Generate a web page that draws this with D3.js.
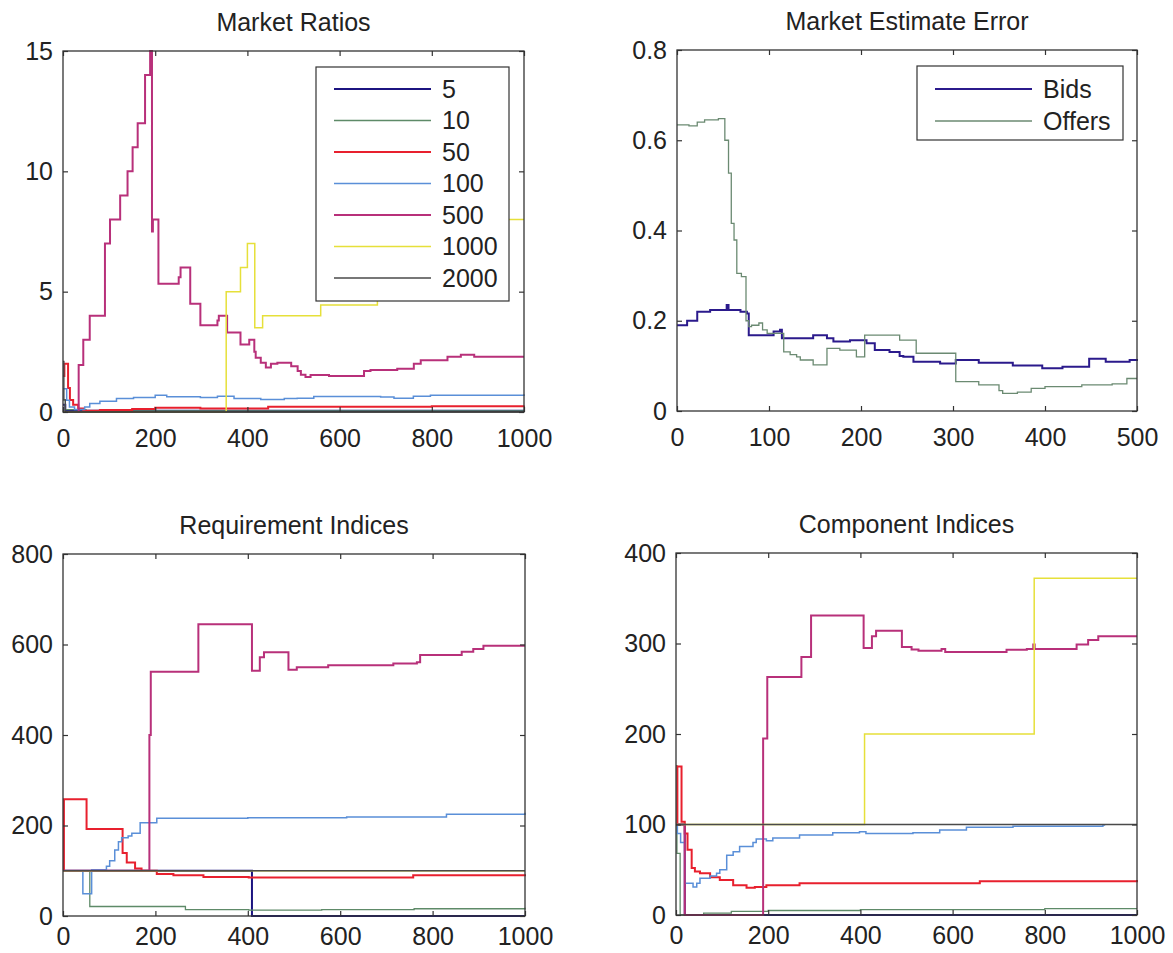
<!DOCTYPE html>
<html>
<head>
<meta charset="utf-8">
<script src="https://cdn.jsdelivr.net/npm/d3@7"></script>
<style>
  body { margin: 0; background: #fff; }
  text { font-family: "Liberation Sans", Arial, sans-serif; fill: #222; }
</style>
</head>
<body>
<div id="visualization"></div>
<script>
// Series names / colours (legend order, also draw order)
var seriesNames  = ["5", "10", "50", "100", "500", "1000", "2000"];
var seriesColors = ["#1c1480", "#5e8a68", "#e8202e", "#5a8fd8", "#b8307a", "#e6e03a", "#4a4a4a"];
var seriesWidths = [2, 1.3, 2, 1.5, 2, 1.5, 1.3];

// Market Ratios  [x, y] step starts
var ratios5    = [[0, 0.3], [5, 0.05], [1000, 0.02]];
var ratios10   = [[0, 0.5], [5, 0.1], [50, 0.05], [1000, 0.05]];
var ratios50   = [[0, 1.5], [3, 2], [11, 1.0], [15, 0.5], [22, 0.3], [33, 0.15], [44, 0.05], [80, 0.08], [150, 0.12],
                  [200, 0.18], [298, 0.15], [429, 0.15], [445, 0.22], [600, 0.22], [800, 0.24], [1000, 0.27]];
var ratios100  = [[0, 0.97], [4, 0.97], [8, 0.49], [14, 0.21], [25, 0.1], [47, 0.21], [58, 0.35], [80, 0.45], [116, 0.56],
                  [153, 0.6], [200, 0.7], [225, 0.63], [298, 0.6], [335, 0.65], [371, 0.56], [429, 0.52], [480, 0.56],
                  [508, 0.57], [544, 0.64], [689, 0.62], [718, 0.57], [760, 0.65], [797, 0.7], [1000, 0.74]];
var ratios500  = [[0, 0], [34, 1.95], [44, 3], [58, 4], [91, 7], [102, 8], [124, 9], [140, 10], [151, 11], [162, 12],
                  [178, 14], [189, 15], [193, 7.5], [195, 8], [207, 5.33], [251, 5.6], [255, 6], [276, 4.5], [298, 3.6],
                  [335, 3.8], [338, 4], [356, 3.3], [385, 2.8], [404, 3], [415, 2.5], [418, 2.25], [429, 2.05],
                  [440, 1.85], [451, 2], [465, 2.05], [495, 1.9], [509, 1.7], [516, 1.55], [526, 1.45], [537, 1.54],
                  [577, 1.5], [653, 1.7], [667, 1.75], [725, 1.8], [761, 2], [776, 2.15], [834, 2.3], [863, 2.38],
                  [892, 2.3], [1000, 2.3]];
var ratios1000 = [[0, 0], [354, 5], [385, 6], [400, 7], [416, 3.5], [433, 4], [559, 4.45], [682, 8], [1000, 8]];
var ratios2000 = [[0, 2.1], [2, 0.5], [5, 0], [1000, 0]];

// Market Estimate Error
var bids   = [[0, 0.19], [6, 0.19], [11, 0.2], [22, 0.22], [36, 0.224], [54, 0.235], [56, 0.224], [69, 0.22], [76, 0.216],
              [78, 0.168], [105, 0.176], [112, 0.18], [114, 0.161], [134, 0.161], [148, 0.168], [163, 0.161], [170, 0.154],
              [188, 0.157], [206, 0.15], [215, 0.135], [231, 0.131], [242, 0.122], [246, 0.12], [257, 0.109], [286, 0.105],
              [303, 0.113], [328, 0.107], [365, 0.101], [397, 0.095], [419, 0.098], [448, 0.116], [466, 0.109],
              [492, 0.113], [500, 0.115]];
var offers = [[0, 0.634], [13, 0.632], [22, 0.64], [30, 0.645], [45, 0.648], [52, 0.6], [56, 0.527], [59, 0.416],
              [62, 0.379], [65, 0.305], [70, 0.298], [75, 0.2], [78, 0.187], [81, 0.19], [89, 0.195], [93, 0.18],
              [98, 0.172], [116, 0.131], [123, 0.125], [130, 0.12], [134, 0.113], [148, 0.102], [163, 0.139],
              [177, 0.135], [195, 0.12], [204, 0.168], [242, 0.157], [260, 0.128], [303, 0.065], [328, 0.058],
              [350, 0.045], [354, 0.039], [370, 0.042], [385, 0.05], [400, 0.054], [440, 0.058], [473, 0.06],
              [489, 0.072], [500, 0.072]];

// Requirement Indices
var req5    = [[0, 100], [409, 0], [1000, 0]];
var req10   = [[0, 100], [58, 21], [265, 14], [402, 13], [560, 14], [760, 16], [1000, 18]];
var req50   = [[0, 100], [2, 258], [51, 192], [129, 139], [138, 118], [156, 105], [170, 100], [203, 93], [239, 90],
               [304, 86], [402, 85], [514, 85], [758, 90], [1000, 92]];
var req100  = [[0, 100], [43, 49], [62, 102], [94, 110], [101, 122], [112, 146], [120, 164], [127, 173], [141, 177],
               [149, 183], [167, 206], [203, 216], [400, 217], [614, 219], [830, 225], [1000, 228]];
var req500  = [[0, 100], [187, 400], [190, 540], [293, 645], [409, 542], [426, 572], [435, 583], [488, 544], [506, 550],
               [574, 554], [715, 558], [766, 561], [773, 577], [863, 584], [888, 590], [910, 597], [1000, 597]];
var req1000 = [[0, 100], [1000, 100]];
var req2000 = [[0, 100], [1000, 100]];

// Component Indices
var comp5    = [[0, 100], [19, 0], [1000, 0]];
var comp10   = [[0, 165], [2, 68], [9, 0], [60, 2], [120, 4], [200, 5], [400, 6], [600, 6], [800, 7], [1000, 7]];
var comp50   = [[0, 100], [3, 164], [12, 103], [19, 90], [25, 72], [34, 52], [41, 48], [52, 46], [74, 41.7], [95, 38.7],
                [124, 33], [153, 30], [171, 31], [196, 33], [268, 35], [412, 35], [659, 37.4], [1000, 38.7]];
var comp100  = [[0, 100], [3, 90], [10, 80], [19, 35], [37, 31], [45, 35], [52, 40.5], [74, 43], [88, 46], [95, 50],
                [110, 66], [124, 70], [138, 75.6], [167, 80], [174, 84], [196, 82], [210, 85], [268, 88.5], [340, 91],
                [398, 92], [412, 90], [514, 91], [572, 94], [630, 97], [731, 98], [926, 99.4], [931, 99.4]];
var comp500  = [[0, 100], [19, 0], [189, 195], [198, 263], [272, 285], [293, 331], [407, 295], [425, 308], [434, 314],
                [490, 296], [511, 293.5], [526, 292], [576, 294], [584, 290.6], [717, 293], [761, 294], [775, 299],
                [778, 294], [869, 299], [894, 304], [916, 308], [1000, 308]];
var comp1000 = [[0, 100], [409, 200], [777, 372], [1000, 372]];
var comp2000 = [[0, 100], [1000, 100]];

var svg = d3.select("#visualization").append("svg")
            .attr("width", 1173)
            .attr("height", 953);

Panel = function (opts) {
    // Box in page pixels
    this.box = opts.box;
    this.w = this.box.right - this.box.left;
    this.h = this.box.bottom - this.box.top;
    this.opts = opts;

    this.base = svg.append("g")
                   .attr("transform", "translate(" + this.box.left + "," + this.box.top + ")");

    this.x = d3.scaleLinear().domain(opts.xDomain).range([0, this.w]);
    this.y = d3.scaleLinear().domain(opts.yDomain).range([this.h, 0]);

    this.createLines();
    this.createAxes();
    if (opts.legend) this.createLegend();
}

Panel.prototype.createAxes = function () {
    var o = this.opts;
    var fmt = function (d) { return String(d); };

    var gx = this.base.append("g")
        .attr("transform", "translate(0," + this.h + ")")
        .call(d3.axisBottom(this.x).tickValues(o.xTicks).tickFormat(fmt).tickSize(-5).tickPadding(o.xPad));
    var gy = this.base.append("g")
        .call(d3.axisLeft(this.y).tickValues(o.yTicks).tickFormat(fmt).tickSize(-5).tickPadding(10));
    // mirrored ticks top / right
    var gt = this.base.append("g")
        .call(d3.axisTop(this.x).tickValues(o.xTicks).tickFormat("").tickSize(-5));
    var gr = this.base.append("g")
        .attr("transform", "translate(" + this.w + ",0)")
        .call(d3.axisRight(this.y).tickValues(o.yTicks).tickFormat("").tickSize(-5));

    [gx, gy, gt, gr].forEach(function (g) {
        g.select(".domain").remove();
        g.selectAll("line").attr("stroke", "#333").attr("stroke-width", 1.2);
        g.selectAll("text").style("font-size", "25px").style("font-family", '"Liberation Sans", Arial, sans-serif')
         .attr("fill", "#222");
    });

    this.base.append("rect")
        .attr("width", this.w)
        .attr("height", this.h)
        .attr("fill", "none")
        .attr("stroke", "#333")
        .attr("stroke-width", 1.3);

    this.base.append("text")
        .attr("x", this.w / 2)
        .attr("y", -20)
        .attr("text-anchor", "middle")
        .style("font-size", "25px")
        .text(o.title);
}

Panel.prototype.createLines = function () {
    var self = this;
    var line = d3.line()
                 .x(function (d) { return self.x(d[0]); })
                 .y(function (d) { return self.y(d[1]); })
                 .curve(d3.curveStepAfter);

    this.base.selectAll("path.series")
        .data(this.opts.series)
        .enter().append("path")
        .attr("class", "series")
        .attr("d", function (s) { return line(s.data); })
        .attr("fill", "none")
        .attr("stroke", function (s) { return s.color; })
        .attr("stroke-width", function (s) { return s.width; });
}

Panel.prototype.createLegend = function () {
    var lg = this.opts.legend;
    var g = svg.append("g").attr("transform", "translate(" + lg.x + "," + lg.y + ")");

    g.append("rect")
        .attr("width", lg.w)
        .attr("height", lg.h)
        .attr("fill", "#fff")
        .attr("stroke", "#333")
        .attr("stroke-width", 1.2);

    var rows = g.selectAll("g.row")
        .data(lg.items)
        .enter().append("g")
        .attr("transform", function (d, i) { return "translate(0," + (lg.first + i * lg.gap) + ")"; });

    rows.append("line")
        .attr("x1", 18).attr("x2", 115)
        .attr("stroke", function (d) { return d.color; })
        .attr("stroke-width", function (d) { return d.width; });

    rows.append("text")
        .attr("x", 126)
        .attr("dy", "0.35em")
        .style("font-size", "25px")
        .text(function (d) { return d.name; });
}

function makeSeries(list) {
    return list.map(function (data, i) {
        return {name: seriesNames[i], data: data, color: seriesColors[i], width: seriesWidths[i]};
    });
}

var ratioSeries = makeSeries([ratios5, ratios10, ratios50, ratios100, ratios500, ratios1000, ratios2000]);
var errorSeries = [
    {name: "Bids",   data: bids,   color: "#2b1a8c", width: 2},
    {name: "Offers", data: offers, color: "#6b8a72", width: 1.3}
];

new Panel({
    box: {left: 63, right: 524, top: 51, bottom: 412},
    xDomain: [0, 1000], yDomain: [0, 15],
    xTicks: [0, 200, 400, 600, 800, 1000], yTicks: [0, 5, 10, 15], xPad: 17,
    title: "Market Ratios",
    series: ratioSeries,
    legend: {x: 316, y: 67, w: 193, h: 234, first: 22, gap: 31.5, items: ratioSeries}
});

new Panel({
    box: {left: 677, right: 1137, top: 50, bottom: 411},
    xDomain: [0, 500], yDomain: [0, 0.8],
    xTicks: [0, 100, 200, 300, 400, 500], yTicks: [0, 0.2, 0.4, 0.6, 0.8], xPad: 17,
    title: "Market Estimate Error",
    series: errorSeries,
    legend: {x: 917, y: 66, w: 206, h: 74, first: 23, gap: 32, items: errorSeries}
});

new Panel({
    box: {left: 63, right: 525, top: 554, bottom: 916},
    xDomain: [0, 1000], yDomain: [0, 800],
    xTicks: [0, 200, 400, 600, 800, 1000], yTicks: [0, 200, 400, 600, 800], xPad: 11,
    title: "Requirement Indices",
    series: makeSeries([req5, req10, req50, req100, req500, req1000, req2000])
});

new Panel({
    box: {left: 676, right: 1137, top: 553, bottom: 915},
    xDomain: [0, 1000], yDomain: [0, 400],
    xTicks: [0, 200, 400, 600, 800, 1000], yTicks: [0, 100, 200, 300, 400], xPad: 11,
    title: "Component Indices",
    series: makeSeries([comp5, comp10, comp50, comp100, comp500, comp1000, comp2000])
});
</script>
</body>
</html>
